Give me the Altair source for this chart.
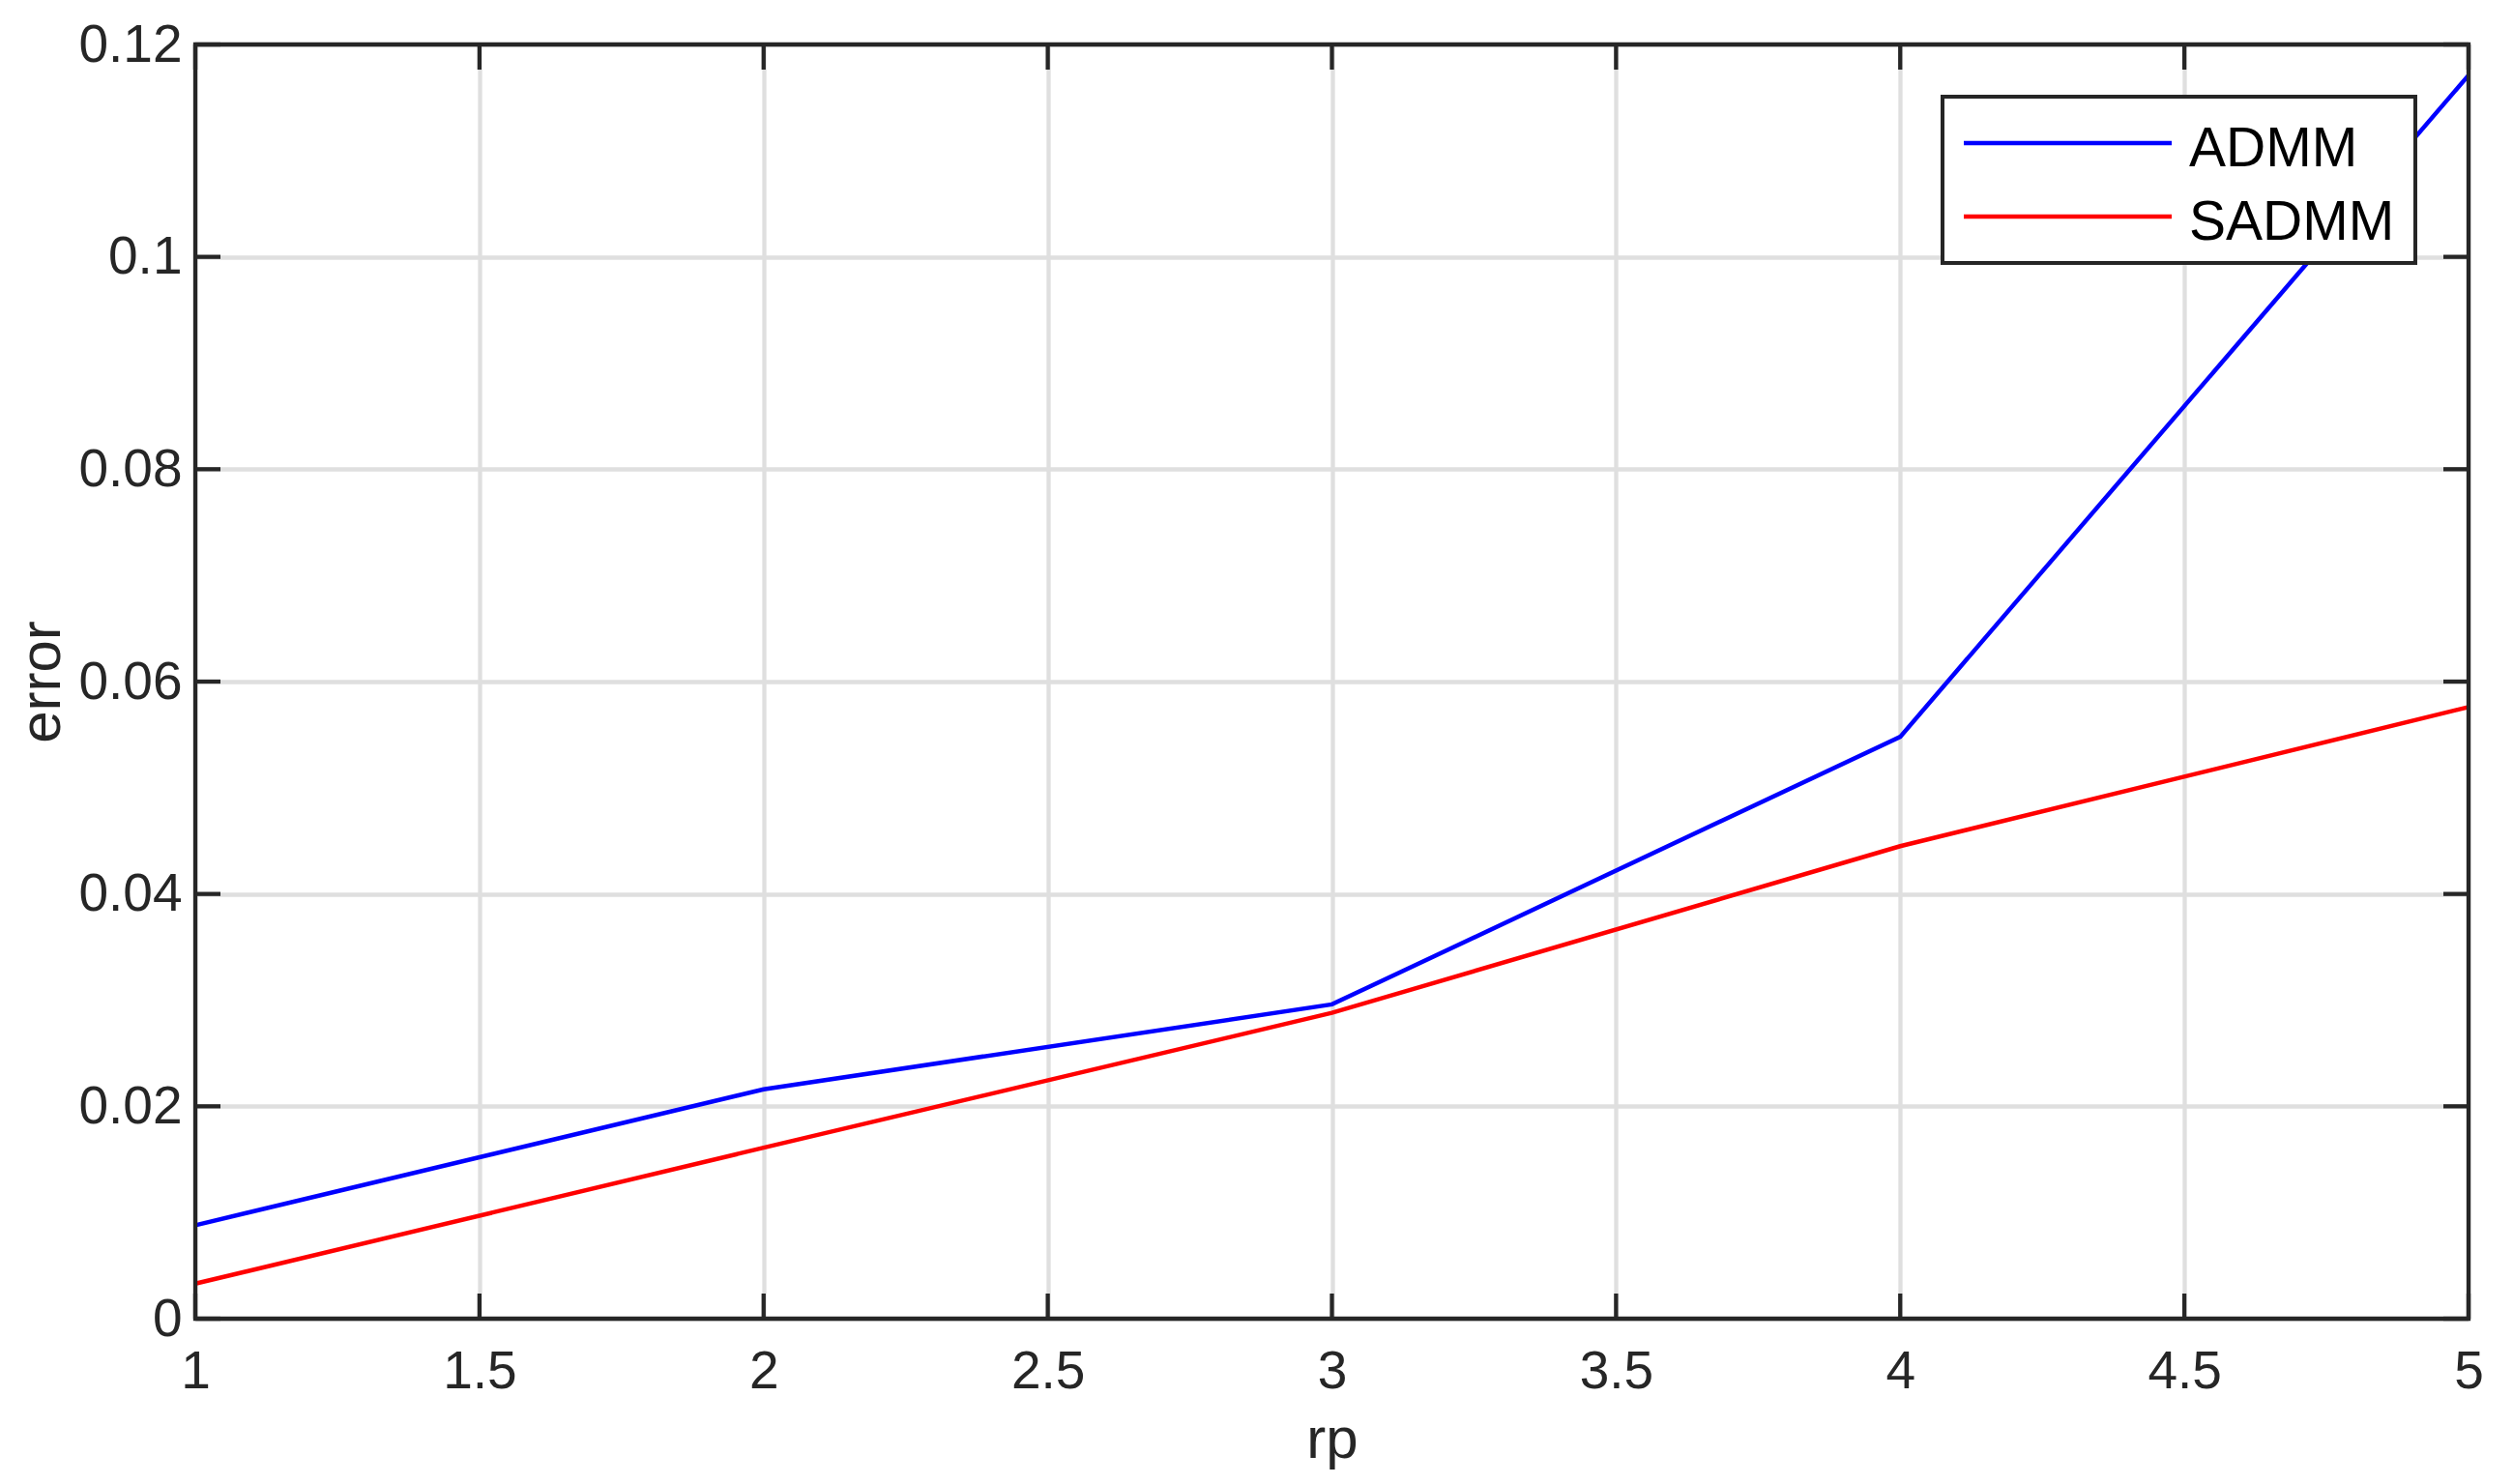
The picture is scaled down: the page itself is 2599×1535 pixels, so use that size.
import altair as alt
import pandas as pd

# ---- data ----
rp = [1, 2, 3, 4, 5]
admm = [0.0088, 0.0216, 0.0296, 0.0548, 0.1171]
sadmm = [0.0033, 0.0161, 0.0288, 0.0445, 0.0576]
series_names = ["ADMM", "SADMM"]
series_colors = ["#0000ff", "#ff0000"]
x_ticks = [1, 1.5, 2, 2.5, 3, 3.5, 4, 4.5, 5]
y_ticks = [0, 0.02, 0.04, 0.06, 0.08, 0.1, 0.12]

W, H = 2351, 1318
TICK = 26
AX = "#262626"
FONT = "Liberation Sans"
FRAME_W = 4.3
LINE_W = 4.5

df = pd.DataFrame({
    "rp": rp * 2,
    "error": admm + sadmm,
    "series": [series_names[0]] * len(rp) + [series_names[1]] * len(rp),
})

xscale = alt.Scale(domain=[1, 5], nice=False, zero=False)
yscale = alt.Scale(domain=[0, 0.12], nice=False, zero=False)

x_axis = alt.Axis(values=x_ticks, format="~g", grid=True, ticks=False, tickSize=0,
                  domain=False, labelPadding=71, labelBaseline="alphabetic",
                  labelFlush=False, labelOverlap=False,
                  title="rp", titleX=W / 2, titleY=143, titleBaseline="alphabetic",
                  titleAlign="center")
y_axis = alt.Axis(values=y_ticks, format="~g", grid=True, ticks=False, tickSize=0,
                  domain=False, labelPadding=14, labelFlush=False, labelOverlap=False,
                  title="error", titleAngle=270, titleX=-141, titleY=H / 2,
                  titleBaseline="alphabetic", titleAlign="center")

lines = alt.Chart(df).mark_line(strokeWidth=LINE_W).encode(
    x=alt.X("rp:Q", scale=xscale, axis=x_axis),
    y=alt.Y("error:Q", scale=yscale, axis=y_axis),
    color=alt.Color("series:N", scale=alt.Scale(domain=series_names, range=series_colors), legend=None),
    order=alt.Order("rp:Q"),
)

xt = pd.DataFrame({"rp": x_ticks})
yt = pd.DataFrame({"error": y_ticks})
tick_style = dict(color=AX, strokeWidth=FRAME_W)
xt_bottom = alt.Chart(xt).mark_rule(**tick_style).encode(
    x=alt.X("rp:Q", scale=xscale), y=alt.value(H), y2=alt.value(H - TICK))
xt_top = alt.Chart(xt).mark_rule(**tick_style).encode(
    x=alt.X("rp:Q", scale=xscale), y=alt.value(0), y2=alt.value(TICK))
yt_left = alt.Chart(yt).mark_rule(**tick_style).encode(
    y=alt.Y("error:Q", scale=yscale), x=alt.value(0), x2=alt.value(TICK))
yt_right = alt.Chart(yt).mark_rule(**tick_style).encode(
    y=alt.Y("error:Q", scale=yscale), x=alt.value(W), x2=alt.value(W - TICK))

# axes box drawn on top of grid
frame = alt.Chart(pd.DataFrame({"k": [0]})).mark_rect(
    fill="transparent", stroke=AX, strokeWidth=FRAME_W).encode(
    x=alt.value(0), x2=alt.value(W), y=alt.value(0), y2=alt.value(H))

# ---- legend box (drawn manually, MATLAB style) ----
leg_df = pd.DataFrame({"series": series_names, "color": series_colors})
leg_box = alt.Chart(pd.DataFrame({"k": [0]})).mark_rect(
    fill="white", stroke=AX, strokeWidth=4).encode(
    x=alt.value(1807), x2=alt.value(2296), y=alt.value(54), y2=alt.value(226))
leg_layers = [leg_box]
for i, (name, col) in enumerate(zip(series_names, series_colors)):
    sub = alt.Chart(leg_df[leg_df.series == name])
    leg_layers.append(sub.mark_rule(color=col, strokeWidth=LINE_W).encode(
        x=alt.value(1829), x2=alt.value(2044), y=alt.value(102 + 76 * i)))
    leg_layers.append(sub.mark_text(align="left", baseline="alphabetic", fontSize=57,
                                    font=FONT, color="#000000").encode(
        text="series:N", x=alt.value(2062), y=alt.value(125.5 + 76 * i)))

chart = alt.layer(lines, xt_bottom, xt_top, yt_left, yt_right, frame, *leg_layers).properties(
    width=W, height=H,
    autosize=alt.AutoSizeParams(type="none"),
    padding={"left": 194, "top": 38, "right": 30, "bottom": 170},
    background="white",
).configure_view(
    strokeWidth=0
).configure_axis(
    labelFont=FONT, labelFontSize=55, labelColor=AX,
    titleFont=FONT, titleFontSize=60, titleColor=AX, titleFontWeight="normal",
    gridColor="#dfdfdf", gridWidth=4.3, gridOpacity=1,
)

chart.save("out.html", embed_options={"renderer": "svg", "actions": False})
